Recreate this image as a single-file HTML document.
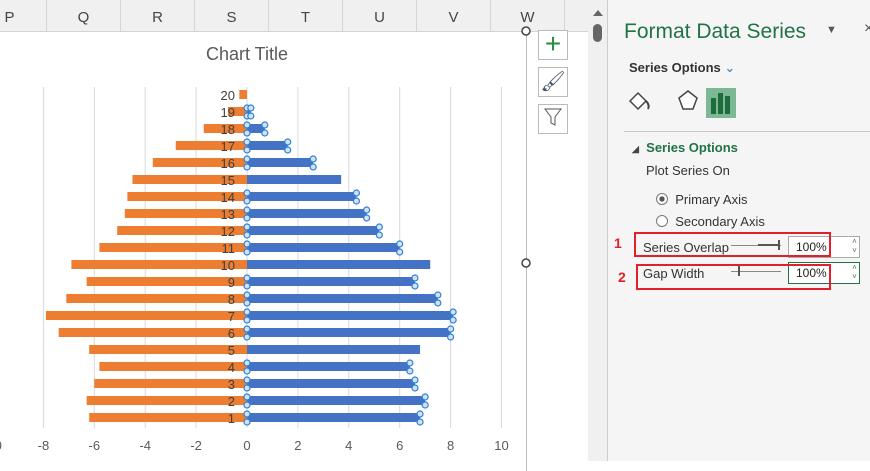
<!DOCTYPE html>
<html><head><meta charset="utf-8"><style>
body{margin:0;width:870px;height:461px;overflow:hidden;background:#fff;font-family:"Liberation Sans",sans-serif;position:relative}
.abs{position:absolute}
.col{position:absolute;top:0;height:31px;border-right:1px solid #d4d4d4;text-align:center;line-height:36px;font-size:15px;color:#444}
</style></head><body>
<div class="abs" style="left:0;top:0;width:588px;height:31px;background:#f0f0f0;border-bottom:1px solid #d4d4d4"></div>
<div id="cols"></div>
<div class="abs" style="left:-10px;top:31px;width:536px;height:440px;border-right:1px solid #bbb"></div>
<svg class="abs" style="left:0;top:0" width="588" height="461" id="chart"></svg>
<div class="abs" style="left:538px;top:30px;width:28px;height:28px;border:1px solid #bbb;background:#fff;color:#2a8a3e;font-size:28px;line-height:26px;text-align:center">+</div>
<div class="abs" style="left:538px;top:67px;width:28px;height:28px;border:1px solid #bbb;background:#fff;text-align:center;font-size:20px;line-height:28px;color:#456">🖌</div>
<div class="abs" style="left:538px;top:104px;width:28px;height:28px;border:1px solid #bbb;background:#fff;text-align:center"><svg width="20" height="24"><path d="M2 4 H18 L12 12 V20 L8 18 V12 Z" fill="none" stroke="#555"/></svg></div>
<div class="abs" style="left:588px;top:0;width:19px;height:461px;background:#f0f0f0;border-right:1px solid #ccc"><div style="margin:10px 0 0 5px;width:0;height:0;border-left:5px solid transparent;border-right:5px solid transparent;border-bottom:6px solid #666"></div><div style="margin:8px 0 0 5px;width:9px;height:18px;background:#666;border-radius:5px"></div></div>
<div class="abs" style="left:608px;top:0;width:262px;height:461px;background:#f5f5f5">
<div class="abs" style="left:16px;top:20px;font-size:21px;color:#217346">Format Data Series</div>
<div class="abs" style="left:218px;top:24px;font-size:11px;color:#555">▼</div>
<div class="abs" style="left:256px;top:20px;font-size:16px;color:#555">×</div>
<div class="abs" style="left:21px;top:60px;font-size:13px;font-weight:bold;color:#333">Series Options <span style="color:#2b79c6;font-weight:normal">⌄</span></div>
<div class="abs" style="left:18px;top:88px"><svg width="26" height="26"><path d="M4 13 L12 5 L20 13 L12 21 Z" fill="#fff" stroke="#444" stroke-width="1.5"/><path d="M20 13 Q24 17 22 21" fill="none" stroke="#444" stroke-width="2"/></svg></div>
<div class="abs" style="left:68px;top:88px;width:24px"><svg width="24" height="26"><path d="M12 3 L21 10 L17 21 H7 L3 10 Z" fill="#fff" stroke="#444" stroke-width="1.5"/></svg></div>
<div class="abs" style="left:98px;top:88px;width:30px;height:30px;background:#7cb894"><svg width="30" height="30"><rect x="5" y="10" width="5" height="16" fill="#1e6b3c"/><rect x="12" y="5" width="5" height="21" fill="#1e6b3c"/><rect x="19" y="8" width="5" height="18" fill="#1e6b3c"/></svg></div>
<div class="abs" style="left:16px;top:131px;width:246px;border-top:1px solid #c8c8c8"></div>
<div class="abs" style="left:24px;top:140px;font-size:13px;font-weight:bold;color:#217346"><span style="color:#444;font-size:9px">◢</span>&nbsp; Series Options</div>
<div class="abs" style="left:38px;top:163px;font-size:13px;color:#333">Plot Series On</div>
<div class="abs" style="left:48px;top:192px;font-size:13px;color:#333"><span style="display:inline-block;width:10px;height:10px;border:1px solid #777;border-radius:50%;background:radial-gradient(#555 35%,#fff 40%);vertical-align:-1px"></span>&nbsp; Primary Axis</div>
<div class="abs" style="left:48px;top:214px;font-size:13px;color:#333"><span style="display:inline-block;width:10px;height:10px;border:1px solid #777;border-radius:50%;background:#fff;vertical-align:-1px"></span>&nbsp; Secondary Axis</div>
<div class="abs" style="left:6px;top:235px;font-size:14px;font-weight:bold;color:#e0202a">1</div>
<div class="abs" style="left:10px;top:269px;font-size:14px;font-weight:bold;color:#e0202a">2</div>
<div class="abs" style="left:35px;top:240px;font-size:13px;color:#333">Series Overlap</div>
<div class="abs" style="left:123px;top:245px;width:50px;border-top:1px solid #888"></div>
<div class="abs" style="left:150px;top:244px;width:22px;border-top:2px solid #555"></div>
<div class="abs" style="left:170px;top:240px;width:2px;height:10px;background:#555"></div>
<div class="abs" style="left:180px;top:236px;width:34px;height:20px;border:1px solid #aaa;background:#fff;font-size:12px;line-height:20px;padding-left:7px;color:#222">100%</div>
<div class="abs" style="left:221px;top:236px;width:30px;height:20px;border:1px solid #aaa;border-left:none;background:#fff;font-size:8px;color:#666;text-align:right;line-height:9px;padding-right:0">˄&nbsp;<br>˅&nbsp;</div>
<div class="abs" style="left:35px;top:266px;font-size:13px;color:#333">Gap Width</div>
<div class="abs" style="left:123px;top:271px;width:50px;border-top:1px solid #888"></div>
<div class="abs" style="left:130px;top:266px;width:2px;height:10px;background:#555"></div>
<div class="abs" style="left:180px;top:262px;width:34px;height:20px;border:1px solid #217346;background:#fff;font-size:12px;line-height:20px;padding-left:7px;color:#222">100%</div>
<div class="abs" style="left:221px;top:262px;width:30px;height:20px;border:1px solid #217346;border-left:none;background:#fff;font-size:8px;color:#666;text-align:right;line-height:9px">˄&nbsp;<br>˅&nbsp;</div>
<div class="abs" style="left:26px;top:232px;width:193px;height:21px;border:2px solid #e0202a"></div>
<div class="abs" style="left:28px;top:264px;width:191px;height:22px;border:2px solid #e0202a"></div>
</div>
<script>
const categories=[1,2,3,4,5,6,7,8,9,10,11,12,13,14,15,16,17,18,19,20];
const leftValues=[-6.2,-6.3,-6.0,-5.8,-6.2,-7.4,-7.9,-7.1,-6.3,-6.9,-5.8,-5.1,-4.8,-4.7,-4.5,-3.7,-2.8,-1.7,-0.75,-0.3];
const rightValues=[6.8,7.0,6.6,6.4,6.8,8.0,8.1,7.5,6.6,7.2,6.0,5.2,4.7,4.3,3.7,2.6,1.6,0.7,0.15,0];
const tickValues=[-10,-8,-6,-4,-2,0,2,4,6,8,10];
const colLetters=['P','Q','R','S','T','U','V','W'];
const NS='http://www.w3.org/2000/svg';
const svg=document.getElementById('chart');
const cols=document.getElementById('cols');
colLetters.forEach((c,i)=>{const d=document.createElement('div');d.className='col';


const l=i===0?-27:47+(i-1)*74;d.style.left=l+'px';d.style.width='73px';d.textContent=c;cols.appendChild(d);});
const x=v=>247+v*25.45;
const y=i=>418-i*17;
function el(t,a){const e=document.createElementNS(NS,t);for(const k in a)e.setAttribute(k,a[k]);svg.appendChild(e);return e;}
const tt=el('text',{x:247,y:60,'text-anchor':'middle','font-size':18,fill:'#595959','font-family':'Liberation Sans'});tt.textContent='Chart Title';


tickValues.forEach(v=>{const g=el('line',{x1:x(v),x2:x(v),y1:87,y2:428,stroke:'#d9d9d9'});


const t=el('text',{x:x(v),y:450,'text-anchor':'middle','font-size':13,fill:'#595959','font-family':'Liberation Sans'});t.textContent=v;

});
categories.forEach((c,i)=>{
const a=leftValues[i],b=rightValues[i];
const r1=el('rect',{x:x(a),y:y(i)-5,width:x(0)-x(a),height:9,fill:'#ed7d31'});


const r2=el('rect',{x:x(0),y:y(i)-5,width:x(b)-x(0),height:9,fill:'#4472c4'});


if(b>0&&c!==5&&c!==10&&c!==15){[x(0),x(b)].forEach(px=>[y(i)-4,y(i)+4].forEach(py=>{const h=el('circle',{cx:px,cy:py,r:3,fill:'#cfe3f7',stroke:'#2f7fd6','stroke-width':1.2});

}));}
const t=el('text',{x:235,y:y(i)+5,'text-anchor':'end','font-size':13,fill:'#404040','font-family':'Liberation Sans'});t.textContent=c;


});
[[526,31],[526,263]].forEach(p=>{const h=el('circle',{cx:p[0],cy:p[1],r:4,fill:'#fff',stroke:'#444','stroke-width':1.5});

});
</script>
</body></html>
